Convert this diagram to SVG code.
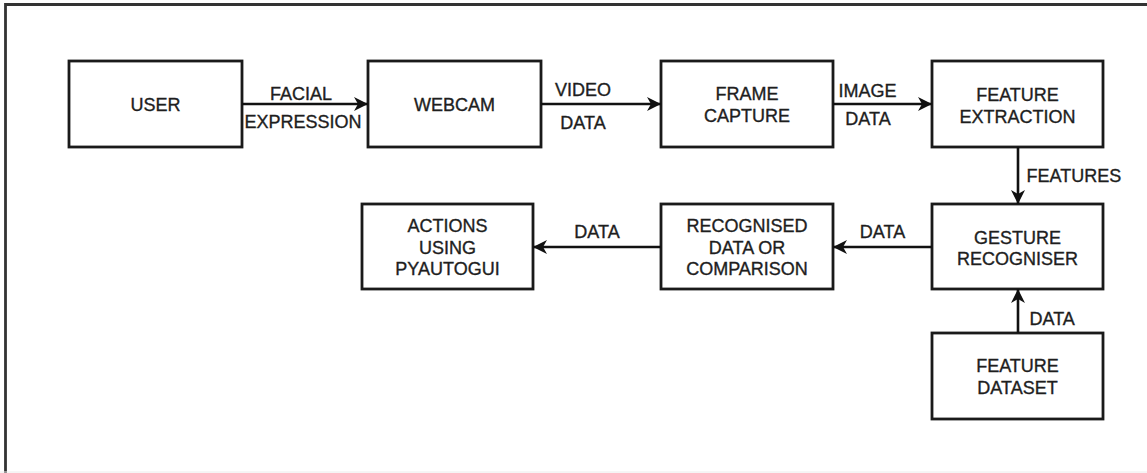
<svg xmlns="http://www.w3.org/2000/svg" width="1147" height="473" viewBox="0 0 1147 473">
  <style>
    .box { fill: #ffffff; stroke: #1a1a1a; stroke-width: 2.8; }
    .lbl { font-family: "Liberation Sans", Arial, sans-serif; font-size: 18px; fill: #1e1e1e; stroke: #1e1e1e; stroke-width: 0.35; }
    .mid { text-anchor: middle; }
    .edge { fill: none; stroke: #111111; stroke-width: 2.6; }
  </style>
  <defs>
    <marker id="arrow" viewBox="-14 -7 14 14" refX="0" refY="0" markerWidth="14" markerHeight="14" markerUnits="userSpaceOnUse" orient="auto">
      <path d="M0,0 L-14,-7 L-10,0 L-14,7 Z" fill="#111111"/>
    </marker>
  </defs>

  <rect width="1147" height="473" fill="#ffffff"/>
  <!-- outer frame -->
  <path d="M5.5,473 V4.5 H1147" fill="none" stroke="#333333" stroke-width="2.8"/>
  <line x1="0" y1="472" x2="1147" y2="472" stroke="#ececec" stroke-width="1"/>

  <g id="user">
    <rect class="box" x="69" y="61" width="173" height="86"/>
    <text class="lbl mid" x="155.5" y="110.5">USER</text>
  </g>
  <g id="webcam">
    <rect class="box" x="368" y="61" width="173" height="86"/>
    <text class="lbl mid" x="454.5" y="110.5">WEBCAM</text>
  </g>
  <g id="frame-capture">
    <rect class="box" x="661" y="61" width="172" height="86"/>
    <text class="lbl mid" x="747" y="100">FRAME</text>
    <text class="lbl mid" x="747" y="122">CAPTURE</text>
  </g>
  <g id="feature-extraction">
    <rect class="box" x="932" y="61" width="171" height="86"/>
    <text class="lbl mid" x="1017.5" y="101">FEATURE</text>
    <text class="lbl mid" x="1017.5" y="122.5">EXTRACTION</text>
  </g>
  <g id="gesture-recogniser">
    <rect class="box" x="932" y="204" width="171" height="85"/>
    <text class="lbl mid" x="1017.5" y="243.5">GESTURE</text>
    <text class="lbl mid" x="1017.5" y="265">RECOGNISER</text>
  </g>
  <g id="feature-dataset">
    <rect class="box" x="932" y="333" width="171" height="86"/>
    <text class="lbl mid" x="1017.5" y="372">FEATURE</text>
    <text class="lbl mid" x="1017.5" y="393.5">DATASET</text>
  </g>
  <g id="recognised-data">
    <rect class="box" x="661" y="204" width="172" height="85"/>
    <text class="lbl mid" x="747" y="232">RECOGNISED</text>
    <text class="lbl mid" x="747" y="253.5">DATA OR</text>
    <text class="lbl mid" x="747" y="275">COMPARISON</text>
  </g>
  <g id="actions">
    <rect class="box" x="362" y="204" width="171" height="85"/>
    <text class="lbl mid" x="447.5" y="232">ACTIONS</text>
    <text class="lbl mid" x="447.5" y="253.5">USING</text>
    <text class="lbl mid" x="447.5" y="275">PYAUTOGUI</text>
  </g>

  <g id="connectors">
    <line class="edge" x1="242" y1="104" x2="368" y2="104" marker-end="url(#arrow)"/>
    <text class="lbl mid" x="301" y="100">FACIAL</text>
    <text class="lbl mid" x="303" y="127.5">EXPRESSION</text>

    <line class="edge" x1="541" y1="104" x2="661" y2="104" marker-end="url(#arrow)"/>
    <text class="lbl mid" x="583" y="96">VIDEO</text>
    <text class="lbl mid" x="583" y="129">DATA</text>

    <line class="edge" x1="833" y1="104" x2="932" y2="104" marker-end="url(#arrow)"/>
    <text class="lbl mid" x="867.5" y="96.5">IMAGE</text>
    <text class="lbl mid" x="868" y="125">DATA</text>

    <line class="edge" x1="1018" y1="147" x2="1018" y2="204" marker-end="url(#arrow)"/>
    <text class="lbl" x="1026.5" y="181.5">FEATURES</text>

    <line class="edge" x1="932" y1="247" x2="833" y2="247" marker-end="url(#arrow)"/>
    <text class="lbl mid" x="882.5" y="237.5">DATA</text>

    <line class="edge" x1="661" y1="247" x2="533" y2="247" marker-end="url(#arrow)"/>
    <text class="lbl mid" x="597" y="237.5">DATA</text>

    <line class="edge" x1="1018" y1="333" x2="1018" y2="289" marker-end="url(#arrow)"/>
    <text class="lbl" x="1029.5" y="325">DATA</text>
  </g>
</svg>
